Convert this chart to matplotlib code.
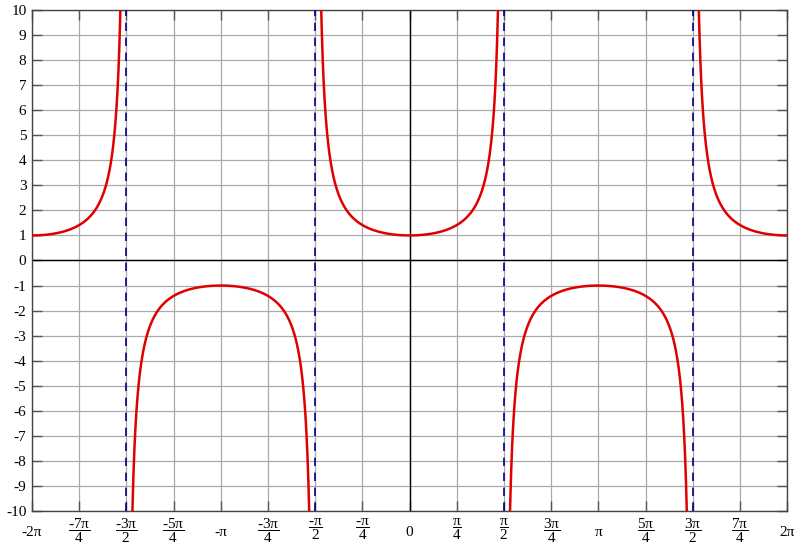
import numpy as np
import matplotlib.pyplot as plt

# sec(x) on [-2pi, 2pi], asymptotes at odd multiples of pi/2
x_ticks_quarters = [-8, -7, -6, -5, -4, -3, -2, -1, 0, 1, 2, 3, 4, 5, 6, 7, 8]
x_tick_labels = ['-2π', ('-7π', '4'), ('-3π', '2'), ('-5π', '4'), '-π', ('-3π', '4'),
                 ('-π', '2'), ('-π', '4'), '0', ('π', '4'), ('π', '2'), ('3π', '4'), 'π',
                 ('5π', '4'), ('3π', '2'), ('7π', '4'), '2π']
y_ticks = list(range(-10, 11))
asymptotes_halfpi = [-3, -1, 1, 3]

plt.rcParams['font.family'] = 'Liberation Serif'
plt.rcParams['mathtext.fontset'] = 'custom'
plt.rcParams['mathtext.rm'] = 'Liberation Serif'


def fmt(lab):
    if isinstance(lab, tuple):
        num = lab[0].replace('-', '\u2010')
        return r'$\dfrac{\mathrm{%s}}{\mathrm{%s}}$' % (num, lab[1])
    return lab


fig = plt.figure(figsize=(8, 5.48), dpi=100)
ax = fig.add_axes([0.04, 0.0675, 0.944, 0.9143])

edges = [-2 * np.pi] + [k * np.pi / 2 for k in asymptotes_halfpi] + [2 * np.pi]
for a, b in zip(edges[:-1], edges[1:]):
    xs = np.linspace(a, b, 800)
    if a != -2 * np.pi:
        xs = xs[1:]
    if b != 2 * np.pi:
        xs = xs[:-1]
    ys = 1 / np.cos(xs)
    ys = np.where(np.abs(ys) > 12, np.nan, ys)
    ax.plot(xs, ys, color='#e00000', lw=1.8, zorder=4)

for k in asymptotes_halfpi:
    ax.axvline(k * np.pi / 2, color='#00008b', lw=1.2, ls=(0, (5, 4)), zorder=3)

ax.axhline(0, color='black', lw=1.0, zorder=2)
ax.axvline(0, color='black', lw=1.0, zorder=2)

ax.set_xlim(-2 * np.pi, 2 * np.pi)
ax.set_ylim(-10, 10)
ax.set_xticks([q * np.pi / 4 for q in x_ticks_quarters])
ax.set_xticklabels([fmt(l) for l in x_tick_labels], fontsize=11)
for t, l in zip(ax.get_xticklabels(), x_tick_labels):
    if not isinstance(l, tuple):
        t.set_y(-0.018)
ax.set_yticks(y_ticks)
ax.set_yticklabels([str(v) for v in y_ticks], fontsize=11)
ax.tick_params(direction='in', length=7, width=1, color='#555555',
               top=True, right=True, pad=4)
ax.grid(True, color='#aaaaaa', lw=0.9)
for s in ax.spines.values():
    s.set_color('#444444')
    s.set_linewidth(1.0)

fig.savefig('out.png', dpi=100)
